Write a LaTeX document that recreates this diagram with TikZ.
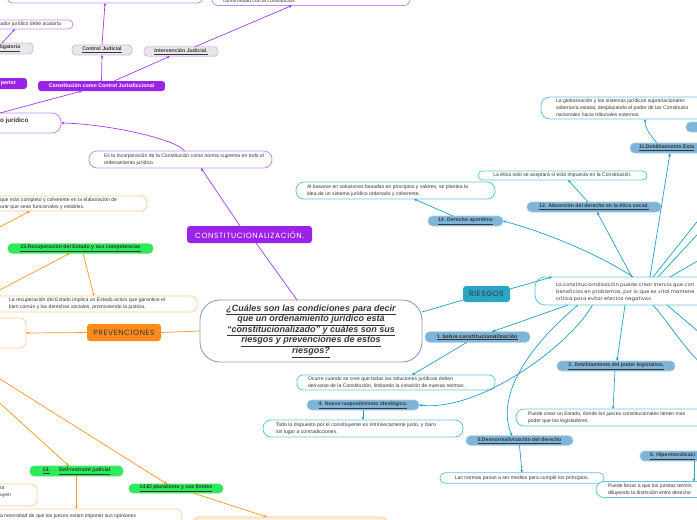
\documentclass[tikz,border=0pt]{standalone}
\usepackage{fontspec}
\setmainfont{Liberation Sans}
\newfontfamily\popf{Poppins}
\newfontfamily\popsp{Poppins}[LetterSpace=8]
\newfontfamily\popsm{Poppins}[LetterSpace=4]
\usetikzlibrary{arrows.meta}
\definecolor{pDark}{RGB}{155,34,232}
\definecolor{pLine}{RGB}{160,60,240}
\definecolor{pBorder}{RGB}{200,140,242}
\definecolor{grayF}{RGB}{232,232,232}
\definecolor{grayB}{RGB}{220,180,245}
\definecolor{oLine}{RGB}{255,150,40}
\definecolor{oFill}{RGB}{255,140,26}
\definecolor{oBorder}{RGB}{255,205,150}
\definecolor{oPale}{RGB}{255,236,215}
\definecolor{gFill}{RGB}{40,236,90}
\definecolor{gBorder}{RGB}{110,220,110}
\definecolor{bFill}{RGB}{126,180,216}
\definecolor{bBorder}{RGB}{170,207,232}
\definecolor{tLine}{RGB}{34,160,196}
\definecolor{tBorder}{RGB}{100,196,222}
\definecolor{rFill}{RGB}{42,165,197}
\definecolor{mBorder}{RGB}{140,160,176}
\definecolor{txt}{RGB}{55,55,55}
\newcommand\fSm{\fontsize{5.1}{7}\selectfont}
\newcommand\fLbl{\fontsize{5.2}{6}\selectfont\bfseries}
\newcommand\fLblw{\fontsize{5.3}{6}\selectfont\bfseries}
\newcommand\fMain{\fontsize{9}{10.6}\selectfont\bfseries\itshape}
\newcommand\fCap{\popsp\fontsize{7.6}{8}\selectfont}
\newcommand\fPop{\popsm\fontsize{4.9}{7}\selectfont}
\tikzset{
  base/.style={inner sep=0pt, outer sep=0pt},
  pl/.style={draw=pLine, line width=0.7pt},
  pa/.style={pl, -{Stealth[length=3.2pt,width=2.8pt]}},
  ol/.style={draw=oLine, line width=0.7pt},
  oa/.style={ol, -{Stealth[length=3.2pt,width=2.8pt]}},
  tl/.style={draw=tLine, line width=0.7pt},
  ta/.style={tl, -{Stealth[length=3.2pt,width=2.8pt]}},
  pbox/.style={base, draw=pBorder, line width=0.8pt, fill=white, rounded corners=6pt},
  obox/.style={base, draw=oBorder, line width=0.8pt, fill=white, rounded corners=6pt},
  tbox/.style={base, draw=tBorder, line width=0.8pt, fill=white, rounded corners=6pt, font=\fSm, text=txt},
  gnode/.style={base, draw=grayB, fill=grayF, line width=0.9pt, rounded corners=4pt, font=\fLbl, text=txt},
  pfill/.style={base, fill=pDark, rounded corners=3pt, text=white, font=\fLblw},
  grn/.style={base, fill=gFill, draw=gBorder, line width=0.6pt, rounded corners=4pt, font=\fLbl, text=txt},
  bn/.style={base, fill=bFill, draw=bBorder, line width=0.6pt, rounded corners=4.5pt, font=\fLbl, text=txt},
  tx/.style={base, anchor=west, align=left, font=\fSm, text=txt},
  sz/.style 2 args={minimum width=#1pt, minimum height=#2pt}
}
\begin{document}
\begin{tikzpicture}[x=1pt,y=-1pt]
\fill[white] (0,0) rectangle (697,520);
\useasboundingbox (0,0) rectangle (697,520);

% ---------- purple branch ----------
\node[pbox, sz={196}{30}] (topL) at (105,-12) {};
\node[pbox, sz={198}{30}] (topR) at (311,-9.5) {};
\node[tx] (topRT) at (223,1) {conformidad con la constitución.};
\node[pbox, sz={83}{9}, rounded corners=4.5pt] (acat) at (31.5,24.5) {};
\node[tx] (acatT) at (0.5,24.5) {ador jurídico debe acatarla};
\node[gnode, sz={43}{11}] (oblig) at (11.5,48.5) {};
\node[tx, font=\fLbl] (obligT) at (0,48.5) {\underline{ligatoria}};
\node[gnode, sz={60}{10}] (ctrlJ) at (102,50) {\underline{Control Judicial}};
\node[gnode, sz={74}{9.5}] (intJ) at (181,51.5) {\underline{Intervención Judicial.}};
\node[pfill, sz={37}{11}] (sup) at (8.5,83.5) {perior};
\node[pfill, sz={127}{10}] (constCJ) at (101.5,86) {Constitución como Control Jurisdiccional};
\node[pbox, sz={91}{20}, rounded corners=9pt] (ordJ) at (15.5,123) {};
\node[tx, font=\fontsize{6.3}{7}\selectfont\bfseries] (ordJT) at (0,120.5) {o jurídico};
\node[pbox, sz={183}{17}, rounded corners=8pt] (esla) at (180.5,159.5) {};
\node[tx] (eslaT) at (104,159.5) {Es la incorporación de la Constitución como norma suprema en todo el\\ordenamiento jurídico.};
\node[pfill, sz={125}{17}, font=\fCap] (constz) at (249.5,234.5) {CONSTITUCIONALIZACIÓN.};

\draw[pa] (constCJ.north) -- (ctrlJ.south);
\draw[pa] (ctrlJ.north) -- (topL.south);
\draw[pa] ([xshift=12.5pt]constCJ.north) -- ([xshift=-11pt]intJ.south);
\draw[pa] ([xshift=14pt]intJ.north) -- ([xshift=-19pt]topR.south);
\draw[pa] ([xshift=-9.5pt]oblig.north) -- ([xshift=-16.5pt]acat.south);
\draw[pa] ([xshift=-15.5pt]ordJ.north) -- ([xshift=-19.5pt]constCJ.south);
\draw[pa] ([xshift=4pt]esla.north) .. controls (178,140) and (110,124) .. (ordJ.east);
\draw[pa] ([xshift=-9.5pt]constz.north) -- ([xshift=20.5pt]esla.south);

% ---------- main ----------
\node[base, draw=mBorder, line width=0.9pt, rounded corners=20pt, fill=white, sz={222}{62}, align=center, font=\fMain, text=txt] (main) at (311,331)
 {\underline{¿Cuáles son las condiciones para decir}\\\underline{que un ordenamiento jurídico está}\\\underline{“constitucionalizado” y cuáles son sus}\\\underline{riesgos y prevenciones de estos}\\\underline{riesgos?}};
\draw[pl] ([xshift=6.5pt]constz.south) -- ([xshift=-14pt]main.north);

% ---------- orange branch ----------
\coordinate (offA) at (-8,231);
\coordinate (offB) at (-8,294);
\coordinate (offC) at (-8,374);
\coordinate (offD) at (-8,396);
\node[obox, sz={207}{15}] (oB1) at (43.5,203.5) {};
\node[tx] (oB1T) at (0,203.5) {que más completo y coherente en la elaboración de\\urar que sean funcionales y estables.};
\node[grn, sz={145}{9.5}] (rec15) at (80.5,248.5) {\underline{15.Recuperación del Estado y sus competencias}};
\node[obox, sz={202}{16}] (oB2) at (96,304) {};
\node[tx] (oB2T) at (9,304) {La recuperación del Estado implica un Estado activo que garantice el\\bien común y los derechos sociales, promoviendo la justicia.};
\node[base, fill=oFill, rounded corners=3pt, sz={74}{17}, font=\fCap, text=txt] (prev) at (124,332.5) {PREVENCIONES};
\node[obox, sz={56}{30}] (oB3) at (-2,333) {};
\node[grn, sz={93}{10}] (sr13) at (76.5,471) {\underline{13.}\hspace{9pt}\underline{Self-restraint judicial}};
\node[grn, sz={94}{9}] (pl14) at (176,488.5) {\underline{14.El pluralismo y sus límites}};
\node[obox, sz={67}{22}] (oB5) at (3.5,495) {};
\node[tx] (oB5T) at (0,492.5) {ra\\uyen};
\node[obox, sz={202}{26}] (oB4) at (81,522) {};
\node[tx] (oB4T) at (0,516) {a necesidad de que los jueces eviten imponer sus opiniones};
\node[obox, fill=oPale, sz={195}{23}] (oB6) at (290.5,528.5) {};

\draw[oa] (offA) -- ([xshift=-13.5pt]oB1.south);
\draw[oa] (offB) -- ([xshift=-10.5pt]rec15.south);
\draw[oa] ([xshift=2.5pt]rec15.south) -- ([xshift=-2pt]oB2.north);
\draw[ol] (main.west) -- (prev.east);
\draw[oa] (prev.west) -- (oB3.east);
\draw[oa] (offD) -- ([xshift=-7.5pt]sr13.north);
\draw[oa] (offC) -- ([xshift=-9pt]pl14.north);
\draw[oa] (sr13.south) -- (sr13.south |- oB4.north);
\draw[oa] ([xshift=17pt]pl14.south) -- ([xshift=-23.5pt]oB6.north);

% ---------- blue branch ----------
\node[base, fill=rFill, rounded corners=3pt, sz={47}{16}, font=\fCap, text=txt] (ries) at (486.5,294) {RIESGOS};
\node[tbox, sz={185}{28}, rounded corners=10pt] (big) at (627.5,291) {};
\node[tx, font=\fPop] (bigT) at (556,292) {La constitucionalización puede crear inercia que con\\beneficios en problemas, por lo que es vital mantene\\crítica para evitar efectos negativos};
\node[bn, sz={75}{10}] (der14) at (465.5,221) {\underline{14. Derecho aporético}};
\node[tbox, sz={199}{17}, rounded corners=8pt] (alb) at (395.5,190.5) {};
\node[tx] (albT) at (307,190.5) {Al basarse en soluciones basadas en principios y valores, se plantea la\\idea de un sistema jurídico ordenado y coherente.};
\node[bn, sz={134}{10}] (abs12) at (594,207) {\underline{12. Absorción del derecho en la ética social.}};
\node[tbox, sz={169}{9}, rounded corners=4.5pt] (etica) at (562.5,175.5) {La ética solo se aceptará si está impuesta en la Constitución.};
\node[bn, sz={90}{10}] (deb11) at (675,148) {};
\node[tx, font=\fLbl] (deb11T) at (639,148) {\underline{11.Debilitamiento Esta}};
\node[tbox, sz={179}{22}, rounded corners=9pt] (glob) at (630.5,108) {};
\node[tx] (globT) at (556,108) {La globalización y los sistemas jurídicos supranacionales\\soberanía estatal, desplazando el poder de las Constitucio\\nacionales hacia tribunales externos.};
\node[bn, sz={34}{10}] (b1) at (703,127) {};
\node[bn, sz={105}{10.5}, font=\popsm\fontsize{4.9}{5}\selectfont\bfseries] (sob1) at (477.5,337) {\underline{1. Sobre constitucionalización}};
\node[tbox, sz={198}{15}] (ocurre) at (396,382.5) {};
\node[tx] (ocurreT) at (308,382.5) {Ocurre cuando se cree que todas las soluciones jurídicas deben\\derivarse de la Constitución, limitando la creación de nuevas normas.};
\node[bn, sz={112}{10}] (nuevo4) at (363,405) {\underline{4. Nuevo iuspositivismo ideológico.}};
\node[tbox, sz={200}{17}, rounded corners=8pt] (todo) at (363,428.5) {};
\node[tx] (todoT) at (276,428.5) {Todo lo dispuesto por el constituyente es intrínsecamente justo, y claro\\sin lugar a contradicciones.};
\node[bn, sz={118}{10}] (deb2) at (616,366) {\underline{2. Debilitamiento del poder legislativo,}};
\node[tbox, sz={204}{17}, rounded corners=8pt] (puede) at (618,417.5) {};
\node[tx] (puedeT) at (528,417.5) {Puede crear un Estado, donde los jueces constitucionales tienen mas\\poder que los legisladores.};
\node[bn, sz={107}{9.5}] (desn5) at (519.5,440.5) {\underline{5.Desnormalivización del derecho}};
\node[tbox, sz={164}{10.5}, rounded corners=5pt] (normas) at (522,478) {Las normas pasan a ser medios para cumplir los principios.};
\node[bn, sz={80}{10}] (hip6) at (680,456) {};
\node[tx, font=\fLbl] (hip6T) at (650,456) {\underline{6. Hipermoralizaci}};
\node[tbox, sz={124}{16}, rounded corners=8pt] (llevar) at (658,489.5) {};
\node[tx] (llevarT) at (608,489.5) {Puede llevar a que los juristas termin\\diluyendo la distinción entre derecho};

\coordinate (offR1) at (720,193);
\coordinate (offR2) at (720,210);
\coordinate (offR3) at (720,248);
\coordinate (offR4) at (720,378);
\coordinate (offR5) at (720,350);

\draw[tl] ([yshift=19pt]main.east) -- ([yshift=-6pt]ries.west);
\draw[ta] ([yshift=5pt]ries.east) -- ([xshift=-75.5pt]big.north);
\draw[ta] ([xshift=5.5pt]big.north) .. controls (600,255) and (545,232) .. (der14.east);
\draw[ta] ([xshift=4.5pt]big.north) -- ([xshift=3pt]abs12.south);
\draw[ta] ([xshift=22.5pt]big.north) -- ([xshift=-5pt]deb11.south);
\draw[tl] ([xshift=25.5pt]big.north) -- (offR1);
\draw[tl] ([xshift=30.5pt]big.north) -- (offR2);
\draw[tl] ([xshift=42.5pt]big.north) -- (offR3);
\draw[ta] ([xshift=-59.5pt]big.south) -- ([xshift=14.5pt]sob1.north);
\draw[ta] ([xshift=-2.5pt]big.south) -- ([xshift=1pt]deb2.north);
\draw[ta] ([xshift=-49.5pt]big.south) .. controls (530,345) and (495,395) .. ([xshift=-7.5pt]desn5.north);
\draw[ta] ([xshift=-35pt]big.south) .. controls (570,345) and (480,412) .. (nuevo4.east);
\draw[tl] ([xshift=25.5pt]big.south) .. controls (675,330) and (690,360) .. (offR4);
\draw[tl] ([xshift=39.5pt]big.south) -- (offR5);
\draw[ta] ([xshift=-12.5pt]der14.north) -- ([xshift=18.5pt]alb.south);
\draw[ta] ([xshift=-6pt]abs12.north) -- ([xshift=5.5pt]etica.south);
\draw[ta] ([xshift=-18pt]deb11.north) .. controls (650,135) and (645,128) .. ([xshift=14.5pt]glob.south);
\draw[ta] ([xshift=-10.5pt]sob1.south) -- ([xshift=16pt]ocurre.north);
\draw[ta] (nuevo4.south) -- (todo.north);
\draw[ta] ([xshift=-1pt]deb2.south) -- ([xshift=-5pt]puede.north);
\draw[ta] (desn5.south) -- (normas.north);
\draw[ta] ([xshift=14pt]hip6.south) -- ([xshift=36pt]llevar.north);
\end{tikzpicture}
\end{document}
